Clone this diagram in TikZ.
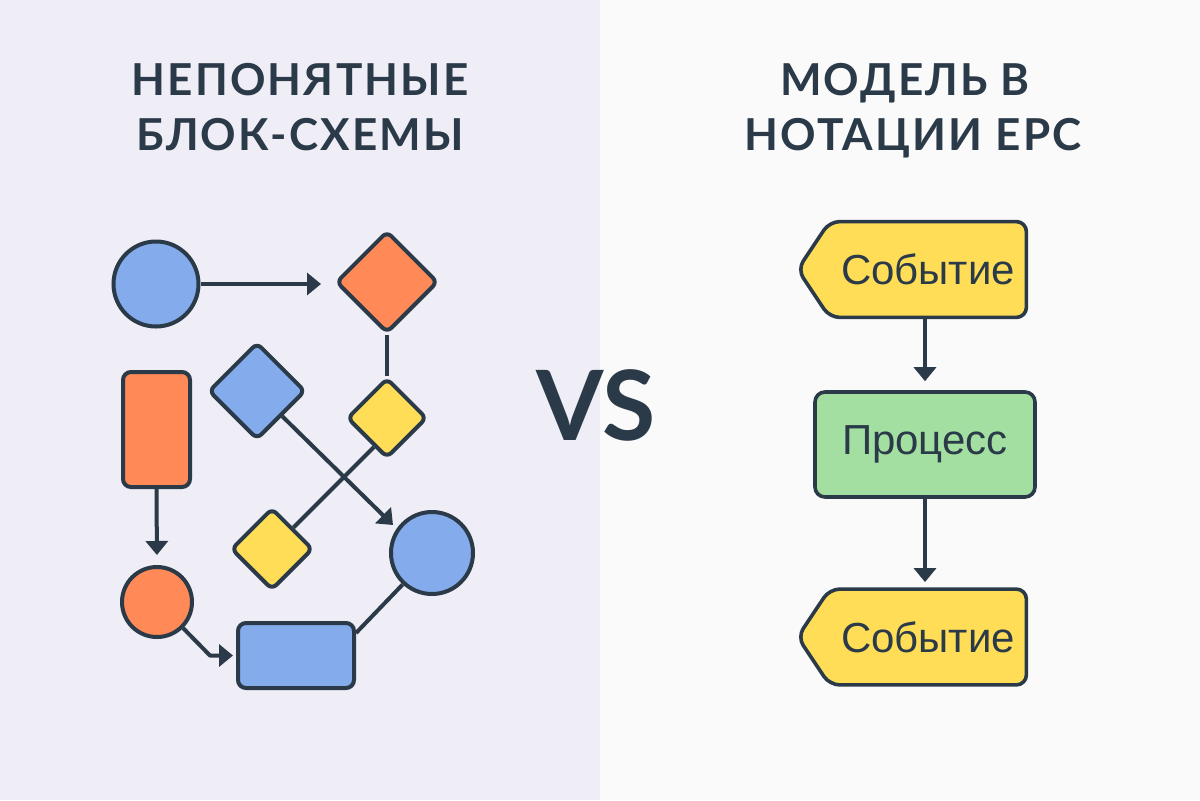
\documentclass[tikz,border=0pt]{standalone}
\usepackage{fontspec}
\setmainfont{Liberation Sans}
\newfontfamily\titlefont[LetterSpace=5]{Lato}
\newfontfamily\vsfont{Lato}
\usetikzlibrary{shapes.geometric,arrows.meta,calc}
\definecolor{dark}{HTML}{2B3A48}
\definecolor{bgL}{HTML}{EFEDF6}
\definecolor{bgR}{HTML}{FAFAFA}
\definecolor{cblue}{HTML}{84ABEB}
\definecolor{corange}{HTML}{FF8A57}
\definecolor{cyellow}{HTML}{FFDD57}
\definecolor{cgreen}{HTML}{A4DFA2}
\pgfdeclarelayer{back}
\pgfdeclarelayer{mid}
\pgfsetlayers{back,mid,main}
\begin{document}
\begin{tikzpicture}[x=0.5pt,y=-0.5pt,
  shp/.style={draw=dark, line width=2pt},
  circ/.style={shp, circle, minimum size=#1, inner sep=0pt},
  dia/.style={shp, diamond, aspect=1, minimum width=#1, minimum height=#1, inner sep=0pt, rounded corners=3pt},
  boxx/.style={shp, rectangle, rounded corners=4pt, inner sep=0pt},
  ln/.style={draw=dark, line width=2pt},
  arr/.style={ln, -{Triangle[length=7pt,width=11pt]}},
  ttl/.style={font=\titlefont\bfseries\fontsize{22}{26}\selectfont, text=dark, inner sep=0pt},
  evtxt/.style={minimum width=98pt, minimum height=47.5pt, inner sep=0pt, font=\fontsize{21}{25}\selectfont, text=dark},
  evshape/.style={draw=dark, line width=1.8pt, fill=cyellow, rounded corners=5pt, line join=round},
  earr/.style={draw=dark, line width=1.8pt, -{Triangle[length=7pt,width=11pt]}}
]
\begin{pgfonlayer}{back}
\fill[bgL] (0,0) rectangle (600,800);
\fill[bgR] (600,0) rectangle (1200,800);
\end{pgfonlayer}
\useasboundingbox (0,0) rectangle (1200,800);

% titles
\node[ttl, anchor=base] (ta1) at (300,95) {НЕПОНЯТНЫЕ};
\node[ttl, anchor=base] (ta2) at (300,150) {БЛОК-СХЕМЫ};
\node[ttl, anchor=base] (tb1) at (905,95) {МОДЕЛЬ В};
\node[ttl, anchor=base] (tb2) at (913,150) {НОТАЦИИ ЕРС};

% VS
\node[font=\vsfont\bfseries\fontsize{48.5}{50}\selectfont, text=dark, anchor=base, inner sep=0pt] (vs) at (596,440) {VS};

% left diagram
\node[circ=42.5pt, fill=cblue] (c1) at (156,284) {};
\node[dia=51pt, fill=corange] (od) at (387,282) {};
\node[dia=48.5pt, fill=cblue] (bd) at (257,391) {};
\node[dia=40pt, fill=cyellow] (yd1) at (387,418) {};
\node[dia=41pt, fill=cyellow] (yd2) at (272,549) {};
\node[boxx, fill=corange, minimum width=33.5pt, minimum height=57.5pt] (orr) at (156.5,429.5) {};
\node[circ=35pt, fill=corange] (sc) at (157,602) {};
\node[boxx, fill=cblue, minimum width=58pt, minimum height=32.5pt] (br) at (296,655.5) {};
\node[circ=41pt, fill=cblue] (bc) at (432,553) {};
\coordinate (tip1) at (393,525);

\draw[arr, shorten >=6.5pt] (c1.east) -- (c1.east -| od.west);
\draw[ln] (od.south) -- (yd1.north);
\draw[arr] (bd.south east) -- (tip1);
\draw[ln] ([xshift=4pt,yshift=-4pt]yd1.south west) -- (yd2.north east);
\draw[arr, shorten >=5pt] (orr.south) -- (sc.north);
\draw[arr, line join=round] (sc.-45) -- ([xshift=-13pt]br.west) -- ([xshift=-1.5pt]br.west);
\draw[ln] ([yshift=-6pt]br.north east) -- (bc.227);

% EPC
\node[evtxt] (e1) at (928,269.5) {Событие};
\node[boxx, line width=1.8pt, fill=cgreen, minimum width=110pt, minimum height=52.5pt, font=\fontsize{21}{25}\selectfont, text=dark, rounded corners=5pt] (p) at (925,444.5) {Процесс};
\node[evtxt] (e2) at (928,637) {Событие};
\begin{pgfonlayer}{mid}
\draw[evshape] (e1.north west) -- (e1.north east) -- (e1.south east) -- (e1.south west) -- ([xshift=-16pt]e1.west) -- cycle;
\draw[evshape] (e2.north west) -- (e2.north east) -- (e2.south east) -- (e2.south west) -- ([xshift=-16pt]e2.west) -- cycle;
\end{pgfonlayer}
\draw[earr, shorten >=4.5pt] (p.north |- e1.south) -- (p.north);
\draw[earr, shorten >=3.5pt] (p.south) -- (p.south |- e2.north);
\end{tikzpicture}
\end{document}
